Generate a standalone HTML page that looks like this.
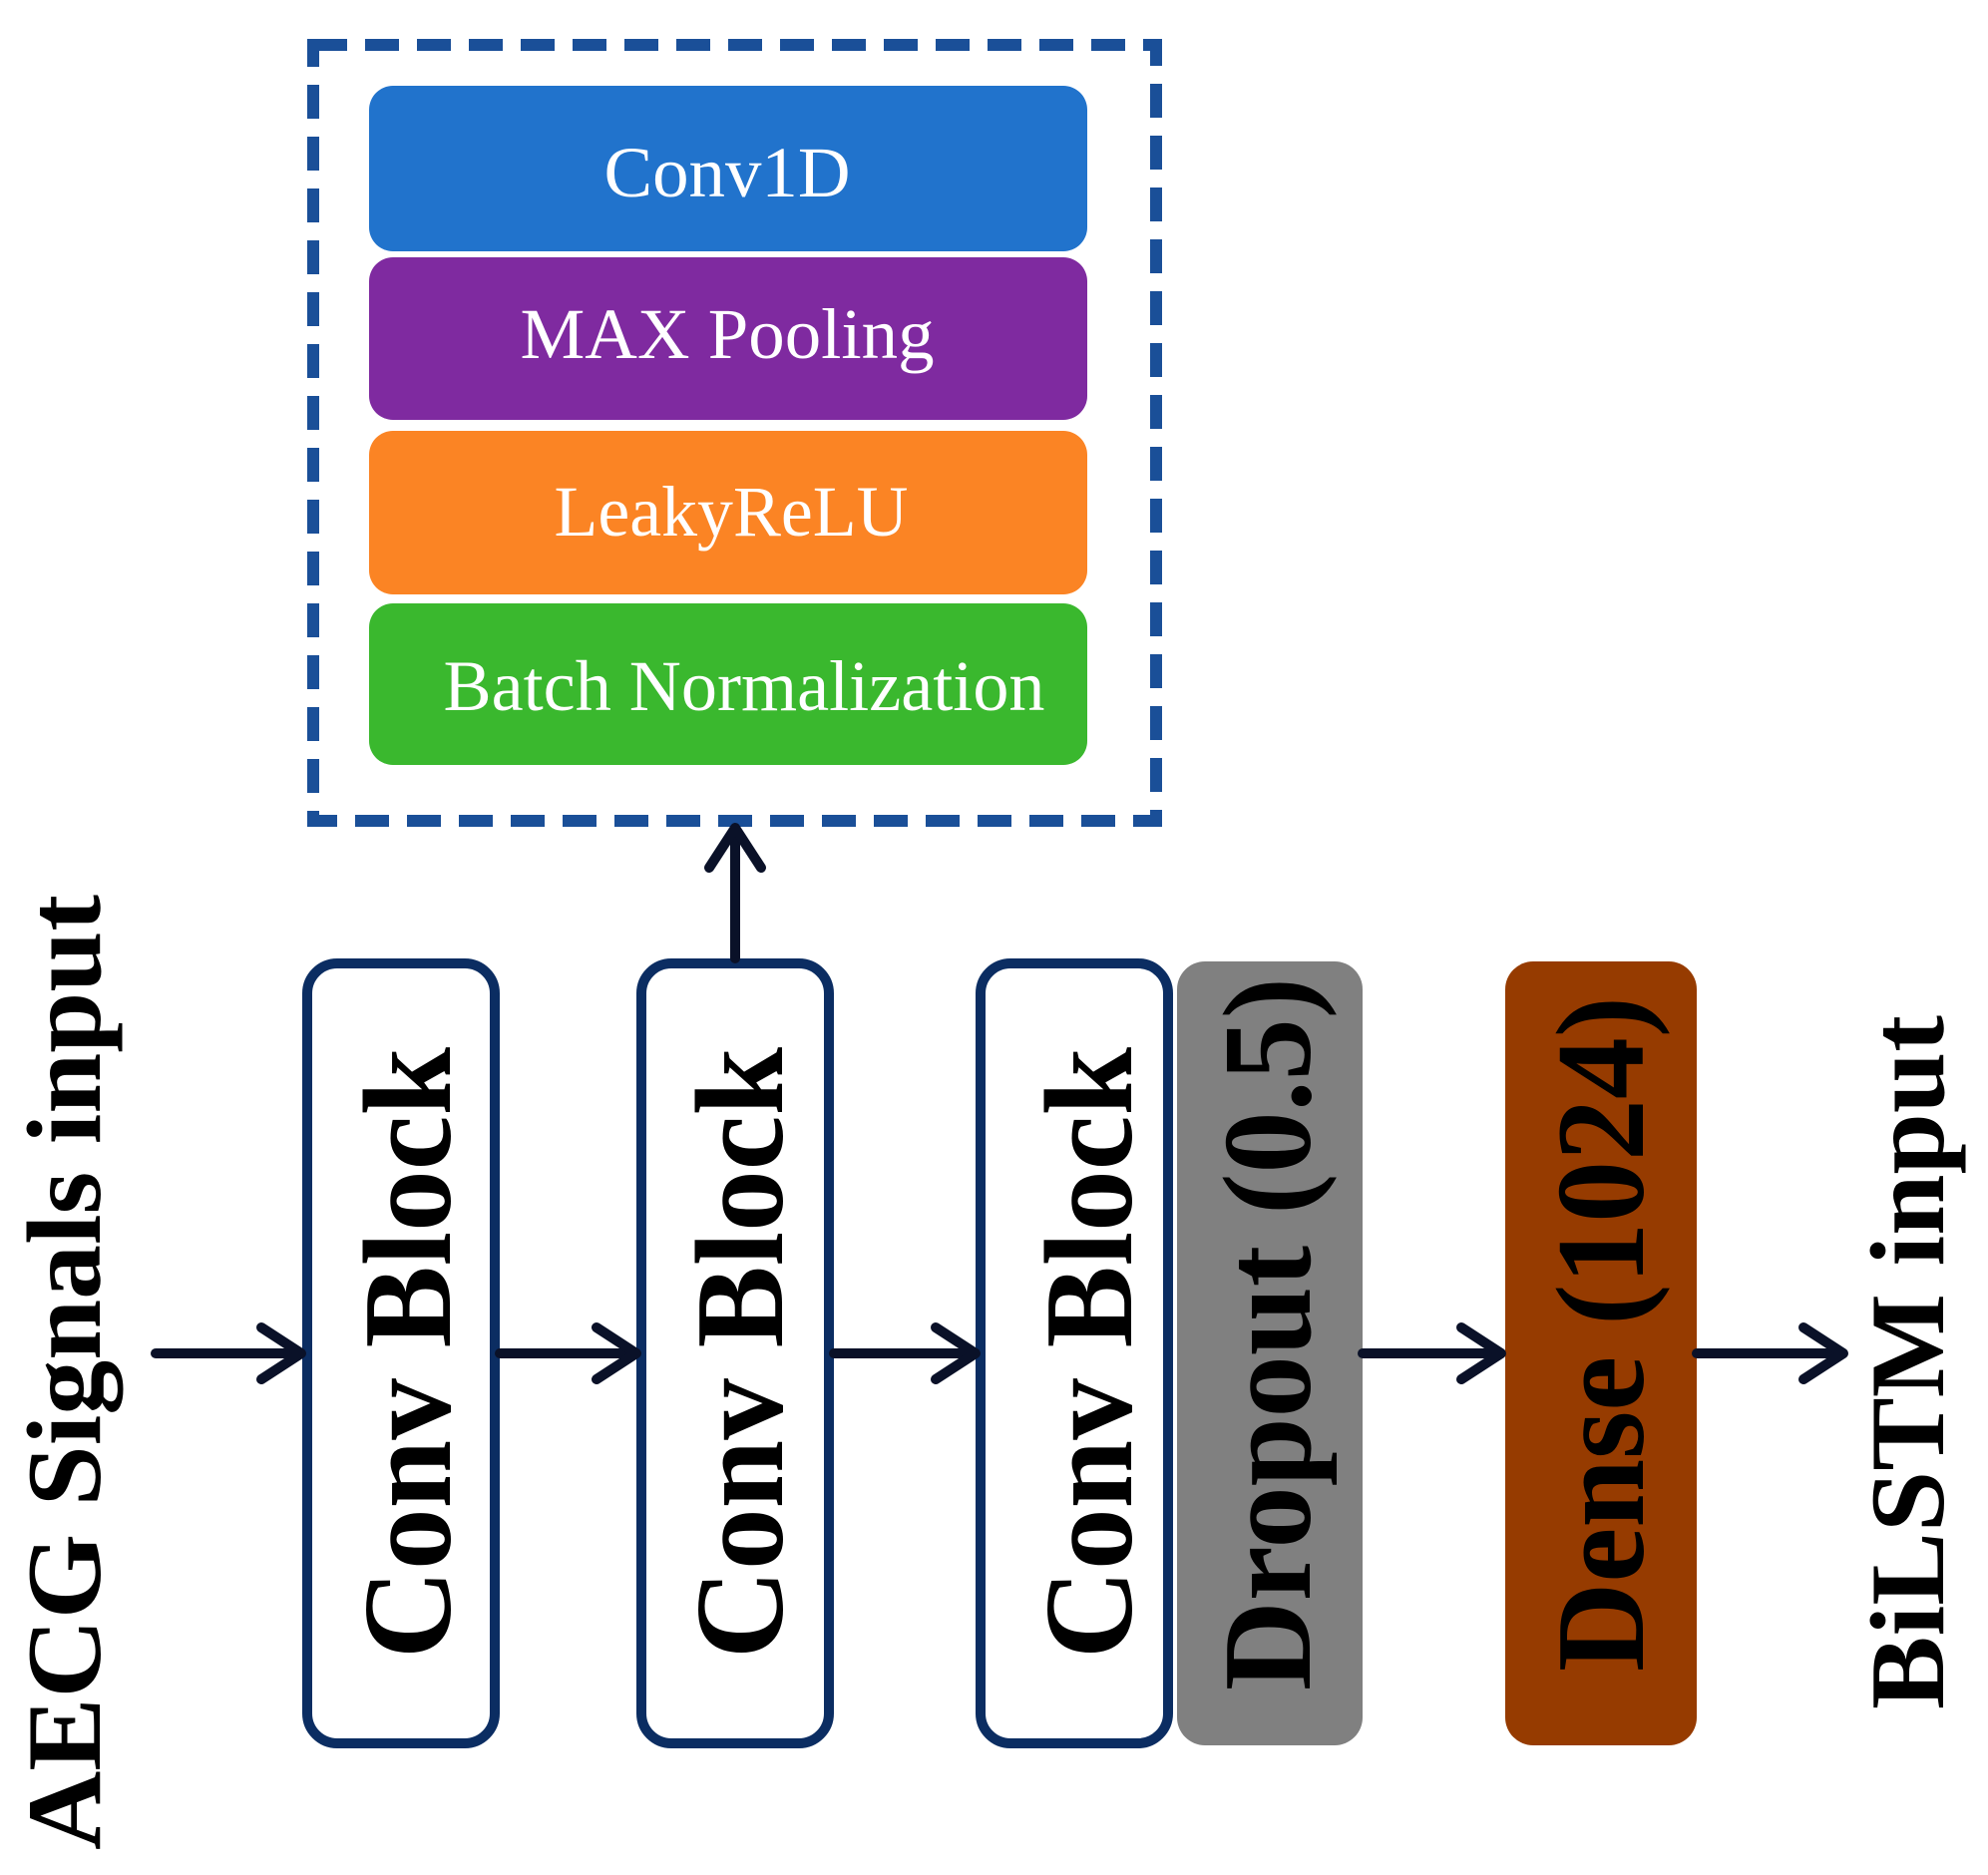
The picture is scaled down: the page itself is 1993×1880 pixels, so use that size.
<!DOCTYPE html>
<html><head><meta charset="utf-8"><style>html,body{margin:0;padding:0;background:#fff}svg{display:block}</style></head>
<body>
<svg width="1993" height="1880" viewBox="0 0 1993 1880" xmlns="http://www.w3.org/2000/svg" font-family="Liberation Serif, serif">
<rect x="0" y="0" width="1993" height="1880" fill="#fff"/>
<rect x="314" y="45" width="845" height="778" fill="none" stroke="#1a4f98" stroke-width="12" stroke-dasharray="34 18"/>
<rect x="370" y="86" width="720" height="166" rx="24" fill="#2173cc"/>
<rect x="370" y="258" width="720" height="163" rx="24" fill="#7f2aa0"/>
<rect x="370" y="432" width="720" height="164" rx="24" fill="#fb8424"/>
<rect x="370" y="605" width="720" height="162" rx="24" fill="#3ab82e"/>
<g fill="#fff" font-size="72">
<text x="729" y="197" text-anchor="middle" textLength="247" lengthAdjust="spacingAndGlyphs">Conv1D</text>
<text x="729" y="359" text-anchor="middle" textLength="415" lengthAdjust="spacingAndGlyphs">MAX Pooling</text>
<text x="733" y="537" text-anchor="middle" textLength="355" lengthAdjust="spacingAndGlyphs">LeakyReLU</text>
<text x="746" y="712" text-anchor="middle" textLength="603" lengthAdjust="spacingAndGlyphs">Batch Normalization</text>
</g>
<g fill="#fff" stroke="#0b2d62" stroke-width="10">
<rect x="308" y="966" width="188" height="782" rx="30"/>
<rect x="643" y="966" width="188" height="782" rx="30"/>
<rect x="983" y="966" width="188" height="782" rx="30"/>
</g>
<rect x="1180" y="964" width="186" height="786" rx="28" fill="#808080"/>
<rect x="1509" y="964" width="192" height="786" rx="28" fill="#963b00"/>
<g stroke="#0a1128" stroke-width="10" fill="none" stroke-linecap="round" stroke-linejoin="round">
<line x1="156" y1="1357" x2="300" y2="1357"/><polyline points="262,1331 302,1357 262,1383"/>
<line x1="501" y1="1357" x2="636" y2="1357"/><polyline points="598,1331 638,1357 598,1383"/>
<line x1="836" y1="1357" x2="976" y2="1357"/><polyline points="938,1331 978,1357 938,1383"/>
<line x1="1366" y1="1357" x2="1503" y2="1357"/><polyline points="1465,1331 1505,1357 1465,1383"/>
<line x1="1701" y1="1357" x2="1846" y2="1357"/><polyline points="1808,1331 1848,1357 1808,1383"/>
<line x1="737" y1="961" x2="737" y2="832"/><polyline points="711,870 737,830 763,870"/>
</g>
<g font-weight="bold" fill="#000">
<text transform="translate(100,1855) rotate(-90)" font-size="106" textLength="958" lengthAdjust="spacingAndGlyphs">AECG Signals input</text>
<text transform="translate(451,1663) rotate(-90)" font-size="126" textLength="613" lengthAdjust="spacingAndGlyphs">Conv Block</text>
<text transform="translate(784,1663) rotate(-90)" font-size="126" textLength="613" lengthAdjust="spacingAndGlyphs">Conv Block</text>
<text transform="translate(1134,1663) rotate(-90)" font-size="126" textLength="613" lengthAdjust="spacingAndGlyphs">Conv Block</text>
<text transform="translate(1313,1695) rotate(-90)" font-size="126" textLength="715" lengthAdjust="spacingAndGlyphs">Dropout (0.5)</text>
<text transform="translate(1647,1676) rotate(-90)" font-size="126" textLength="677" lengthAdjust="spacingAndGlyphs">Dense (1024)</text>
<text transform="translate(1948,1714) rotate(-90)" font-size="106" textLength="696" lengthAdjust="spacingAndGlyphs">BiLSTM input</text>
</g>
</svg>
</body></html>
